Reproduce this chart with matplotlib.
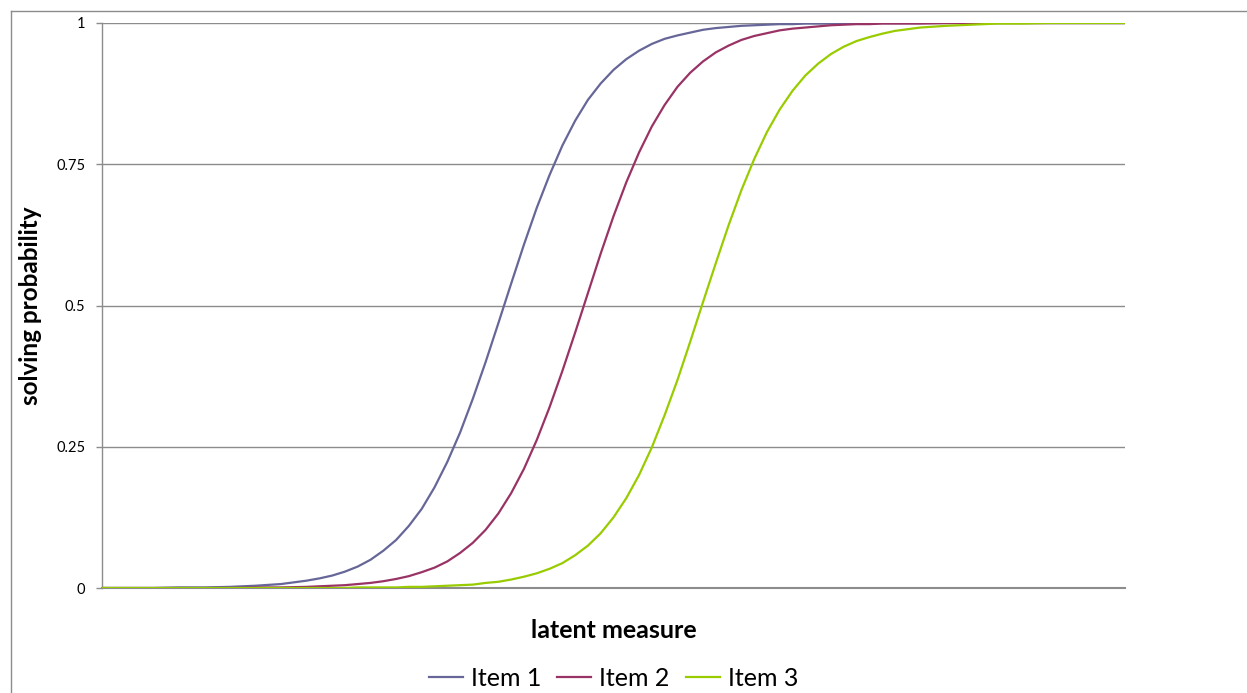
'''
Item characteristic curves: solving probability vs latent measure.
'''

import matplotlib
matplotlib.use('Agg')
import matplotlib.pyplot as plt
from matplotlib.lines import Line2D

plt.rcParams['font.family'] = ['Lato', 'DejaVu Sans']

# latent measure (arbitrary units, axis is unlabelled), finer in the steep part
latent = [0, 2.5, 5, 7.5, 10, 12.5, 15, 17.5,
          20, 21.25, 22.5, 23.75, 25, 26.25, 27.5, 28.75, 30, 31.25,
          32.5, 33.75, 35, 36.25, 37.5, 38.75, 40, 41.25, 42.5, 43.75,
          45, 46.25, 47.5, 48.75, 50, 51.25, 52.5, 53.75, 55, 56.25,
          57.5, 58.75, 60, 61.25, 62.5, 63.75, 65, 66.25, 67.5, 68.75,
          70, 71.25, 72.5, 73.75, 75, 76.25, 77.5, 78.75, 80,
          82.5, 85, 87.5, 90, 92.5, 95, 97.5, 100]

# solving probabilities
item1 = [0.000, 0.000, 0.000, 0.001, 0.001, 0.002, 0.004, 0.007,
         0.013, 0.017, 0.022, 0.029, 0.038, 0.050, 0.066, 0.085, 0.110, 0.140,
         0.178, 0.223, 0.275, 0.335, 0.400, 0.469, 0.539, 0.608, 0.673, 0.731,
         0.783, 0.827, 0.864, 0.893, 0.917, 0.936, 0.951, 0.963, 0.972, 0.978,
         0.983, 0.988, 0.991, 0.993, 0.995, 0.996, 0.997, 0.998, 0.998, 0.999,
         0.999, 0.999, 0.999, 1.000, 1.000, 1.000, 1.000, 1.000, 1.000,
         1.000, 1.000, 1.000, 1.000, 1.000, 1.000, 1.000, 1.000]
item2 = [0.000, 0.000, 0.000, 0.000, 0.000, 0.000, 0.001, 0.001,
         0.002, 0.003, 0.004, 0.005, 0.007, 0.009, 0.012, 0.016, 0.021, 0.028,
         0.036, 0.047, 0.062, 0.080, 0.103, 0.132, 0.168, 0.211, 0.262, 0.320,
         0.384, 0.452, 0.522, 0.592, 0.658, 0.718, 0.771, 0.817, 0.855, 0.887,
         0.912, 0.932, 0.948, 0.960, 0.970, 0.977, 0.982, 0.987, 0.990, 0.992,
         0.994, 0.996, 0.997, 0.998, 0.998, 0.999, 0.999, 0.999, 0.999,
         1.000, 1.000, 1.000, 1.000, 1.000, 1.000, 1.000, 1.000]
item3 = [0.000, 0.000, 0.000, 0.000, 0.000, 0.000, 0.000, 0.000,
         0.000, 0.000, 0.000, 0.000, 0.001, 0.001, 0.001, 0.001, 0.002, 0.002,
         0.003, 0.004, 0.005, 0.006, 0.009, 0.011, 0.015, 0.020, 0.026, 0.034,
         0.044, 0.058, 0.075, 0.097, 0.125, 0.159, 0.200, 0.249, 0.306, 0.368,
         0.436, 0.506, 0.575, 0.642, 0.704, 0.759, 0.807, 0.847, 0.880, 0.907,
         0.928, 0.945, 0.958, 0.968, 0.975, 0.981, 0.986, 0.989, 0.992,
         0.995, 0.997, 0.999, 0.999, 1.000, 1.000, 1.000, 1.000]

series = [('Item 1', item1, '#666699'),
          ('Item 2', item2, '#993366'),
          ('Item 3', item3, '#99CC00')]

yticks = [0, 0.25, 0.5, 0.75, 1]
ytick_labels = ['0', '0.25', '0.5', '0.75', '1']

fig = plt.figure(figsize=(12.47, 6.93), dpi=100)
ax = fig.add_axes([102/1247, 105/693, 1023/1247, 565/693])

for name, vals, col in series:
    ax.plot(latent, vals, color=col, linewidth=1.6, label=name, zorder=3)

ax.set_xlim(latent[0], latent[-1])
ax.set_ylim(0, 1)
ax.set_yticks(yticks)
ax.set_yticklabels(ytick_labels)
ax.set_xticks([])

# gridlines
for t in yticks[1:]:
    ax.axhline(t, color='#8c8c8c', linewidth=1.0, zorder=1)

for s in ['top', 'right']:
    ax.spines[s].set_visible(False)
ax.spines['left'].set_color('#8c8c8c')
ax.spines['bottom'].set_color('#8c8c8c')
ax.spines['left'].set_linewidth(1.0)
ax.spines['bottom'].set_linewidth(1.5)
ax.tick_params(axis='y', length=4, width=1.0, color='#8c8c8c', pad=8,
               labelsize=10.5)

ax.set_ylabel('solving probability', fontsize=17.5, fontweight='bold', labelpad=10)
ax.set_xlabel('latent measure', fontsize=18, fontweight='bold', labelpad=22)

ax.legend(loc='upper center', bbox_to_anchor=(0.5, -0.1), ncol=3,
          frameon=False, fontsize=18, handlelength=1.36, handletextpad=0.32,
          columnspacing=0.64)

# chart area border (left and top edges visible)
fig.add_artist(Line2D([11/1247, 11/1247], [0, 1 - 11/693], color='#8c8c8c',
                      linewidth=1.0, transform=fig.transFigure))
fig.add_artist(Line2D([11/1247, 1], [1 - 11/693, 1 - 11/693], color='#8c8c8c',
                      linewidth=1.0, transform=fig.transFigure))

plt.savefig('out.png', dpi=100)
